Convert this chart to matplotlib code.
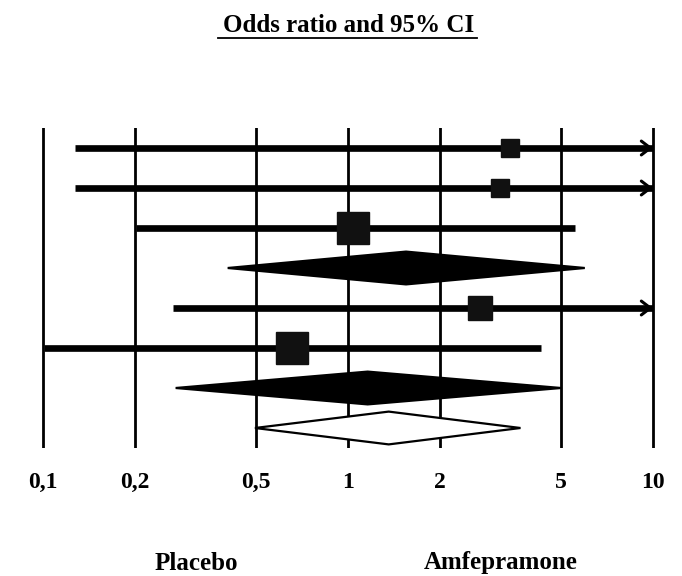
import matplotlib.pyplot as plt
from matplotlib.lines import Line2D

# studies (rows top to bottom) - odds ratio, lower and upper 95% CI
study_or = [3.39, 3.16, 1.04, 2.72, 0.655]
study_lo = [0.127, 0.127, 0.202, 0.266, 0.1007]
study_hi = [12.0, 12.0, 5.54, 12.0, 4.31]
study_row = [0, 1, 2, 4, 5]
study_weight = [18, 18, 32, 24, 32]

# pooled estimates (diamonds)
pool_or = [1.55, 1.16, 1.36]
pool_lo = [0.403, 0.272, 0.495]
pool_hi = [5.98, 5.0, 3.68]
pool_row = [3, 6, 7]
pool_fill = ['black', 'black', 'white']

ticks = [0.1, 0.2, 0.5, 1, 2, 5, 10]
tick_labels = ['0,1', '0,2', '0,5', '1', '2', '5', '10']

serif = ['Liberation Serif', 'DejaVu Serif']

fig = plt.figure(figsize=(6.82, 5.76), dpi=100)
ax = fig.add_axes([34 / 682, 128 / 576, 628 / 682, 320 / 576])
ax.set_xscale('log')
ax.set_xlim(10 ** -1.03, 10 ** 1.03)
ax.set_ylim(7.5, -0.5)

for t in ticks:
    ax.axvline(t, color='black', lw=2.0, zorder=1)

xmax = ticks[-1]
for y, est, lo, hi, w in zip(study_row, study_or, study_lo, study_hi, study_weight):
    ax.plot([lo, min(hi, xmax)], [y, y], color='black', lw=4.8, solid_capstyle='butt', zorder=2)
    if hi > xmax:
        ax.annotate('', xy=(xmax, y), xytext=(xmax * 0.9, y),
                    arrowprops=dict(arrowstyle='->,head_length=0.65,head_width=0.5',
                                    lw=2.2, color='black', shrinkA=0, shrinkB=0), zorder=3)
    ax.plot(est, y, marker='s', ms=w * 0.72, color='#111111', mec='#111111', zorder=4)

for y, est, lo, hi, fc in zip(pool_row, pool_or, pool_lo, pool_hi, pool_fill):
    h = 0.41
    ax.fill([lo, est, hi, est, lo], [y, y - h, y, y + h, y], facecolor=fc,
            edgecolor='black', lw=1.6, zorder=4)

ax.set_xticks(ticks)
ax.set_xticklabels(tick_labels, fontfamily=serif, fontweight='bold', fontsize=17)
ax.xaxis.set_minor_locator(plt.NullLocator())
ax.tick_params(axis='x', length=0, pad=17)
ax.set_yticks([])
for s in ax.spines.values():
    s.set_visible(False)

title = fig.text(349 / 682, 1 - 25 / 576, 'Odds ratio and 95% CI', ha='center', va='center',
                 fontfamily=serif, fontweight='bold', fontsize=18)
fig.canvas.draw()
bb = title.get_window_extent().transformed(fig.transFigure.inverted())
fig.add_artist(Line2D([bb.x0 - 0.008, bb.x1 + 0.004], [1 - 38 / 576] * 2, color='black', lw=1.3))

fig.text(196 / 682, 1 - 563 / 576, 'Placebo', ha='center', va='center',
         fontfamily=serif, fontweight='bold', fontsize=18)
fig.text(501 / 682, 1 - 563 / 576, 'Amfepramone', ha='center', va='center',
         fontfamily=serif, fontweight='bold', fontsize=18)

fig.savefig('out.png', dpi=100)
